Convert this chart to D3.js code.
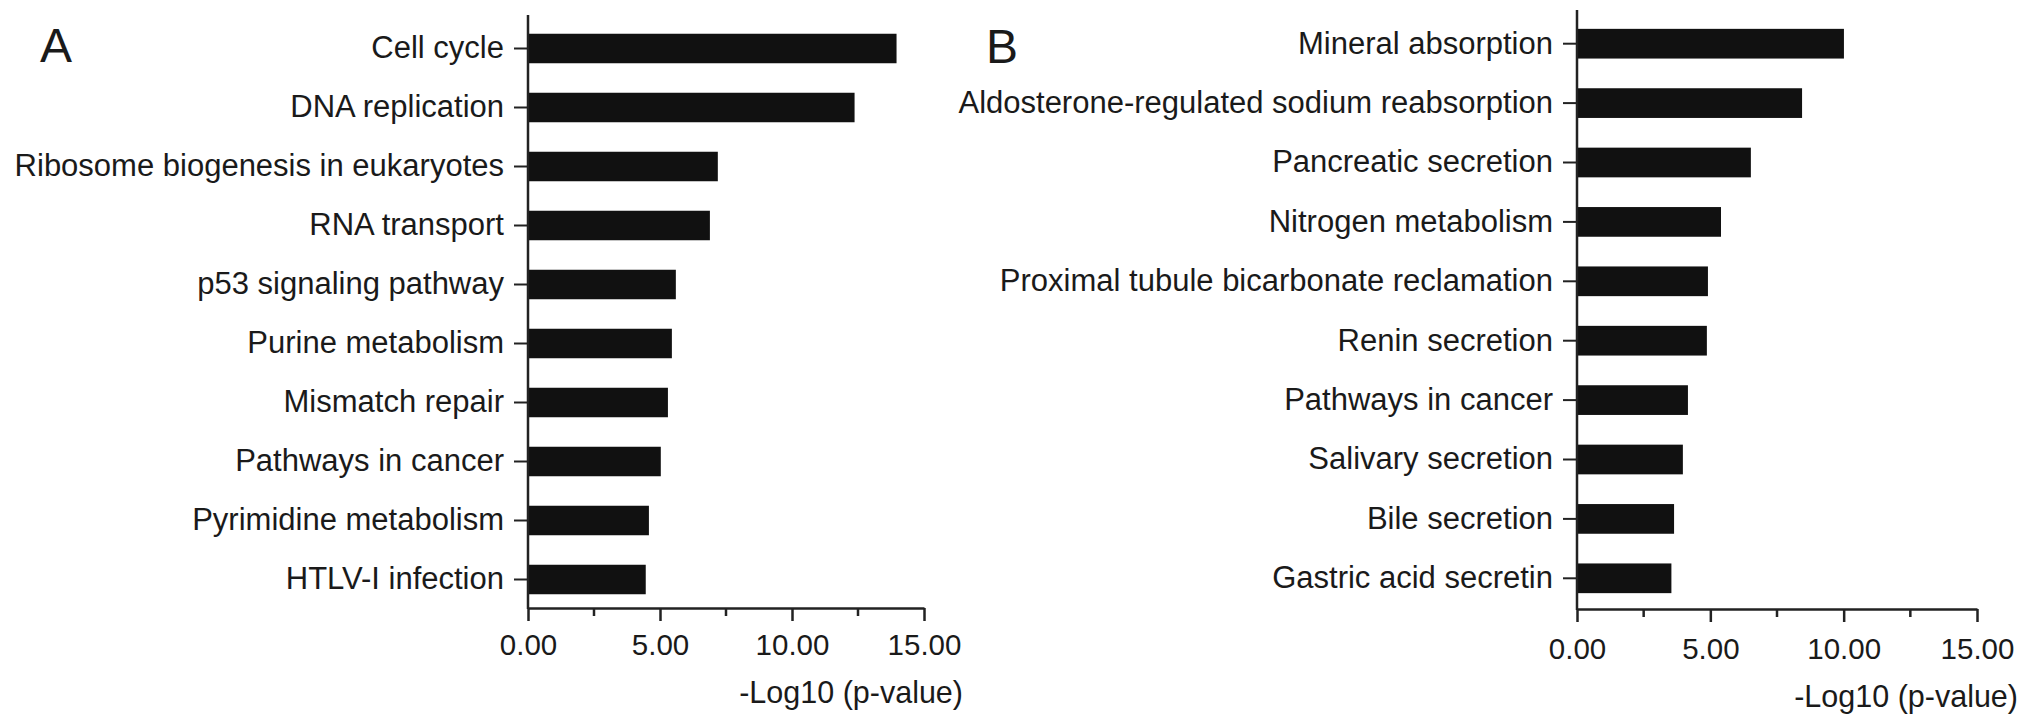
<!DOCTYPE html>
<html>
<head>
<meta charset="utf-8">
<script src="https://cdn.jsdelivr.net/npm/d3@7"></script>
<style>
  html, body { margin: 0; padding: 0; background: #fff; }
  svg { display: block; }
  text { font-family: "Liberation Sans", Arial, Helvetica, sans-serif; fill: #1a1a1a; }
</style>
</head>
<body>
<svg id="chart" width="2031" height="717"></svg>
<script>
// ---- Data ----
const categoriesA = ["Cell cycle", "DNA replication", "Ribosome biogenesis in eukaryotes", "RNA transport",
  "p53 signaling pathway", "Purine metabolism", "Mismatch repair", "Pathways in cancer",
  "Pyrimidine metabolism", "HTLV-I infection"];
const valuesA = [13.96, 12.37, 7.19, 6.89, 5.60, 5.45, 5.30, 5.03, 4.58, 4.46];

const categoriesB = ["Mineral absorption", "Aldosterone-regulated sodium reabsorption", "Pancreatic secretion",
  "Nitrogen metabolism", "Proximal tubule bicarbonate reclamation", "Renin secretion",
  "Pathways in cancer", "Salivary secretion", "Bile secretion", "Gastric acid secretin"];
const valuesB = [10.01, 8.44, 6.52, 5.40, 4.91, 4.87, 4.16, 3.97, 3.64, 3.54];

const xTicks = [0, 5, 10, 15];
const xMinorTicks = [2.5, 7.5, 12.5];
const xDomain = [0, 15];
const axisTitle = "-Log10 (p-value)";
const panelLetters = ["A", "B"];

// ---- Drawing ----
const svg = d3.select("#chart");

function panel(cfg) {
  const g = svg.append("g");
  const x = d3.scaleLinear().domain(xDomain).range(cfg.xRange);
  const y = d3.scaleBand().domain(cfg.categories).range(cfg.yRange).paddingInner(0.5).paddingOuter(0.25);

  // bars
  g.selectAll("rect.bar").data(cfg.values).enter().append("rect")
    .attr("class", "bar")
    .attr("x", x(0))
    .attr("y", (d, i) => y(cfg.categories[i]))
    .attr("width", d => x(d) - x(0))
    .attr("height", y.bandwidth())
    .attr("fill", "#111");

  // y axis
  const yAxis = g.append("g").attr("transform", `translate(${x(0)},0)`)
    .call(d3.axisLeft(y).tickSize(14).tickPadding(10).tickSizeOuter(0));
  yAxis.select(".domain").remove();
  yAxis.selectAll(".tick line").attr("stroke", "#222").attr("stroke-width", 2);
  yAxis.selectAll(".tick text").style("font-size", "31px").attr("fill", "#1a1a1a");
  g.append("line")
    .attr("x1", x(0)).attr("x2", x(0))
    .attr("y1", cfg.axisTop).attr("y2", cfg.axisY + 1)
    .attr("stroke", "#222").attr("stroke-width", 2.5);

  // x axis
  const xAxis = g.append("g").attr("transform", `translate(0,${cfg.axisY})`)
    .call(d3.axisBottom(x).tickValues(xTicks).tickFormat(d3.format(".2f"))
      .tickSize(13).tickSizeOuter(0).tickPadding(cfg.tickPad));
  xAxis.select(".domain").attr("stroke", "#222").attr("stroke-width", 2.5);
  xAxis.selectAll(".tick line").attr("stroke", "#222").attr("stroke-width", 2.5);
  xAxis.selectAll(".tick text").style("font-size", "29.5px").attr("fill", "#1a1a1a");

  // minor ticks
  g.append("g").selectAll("line").data(xMinorTicks).enter().append("line")
    .attr("x1", d => x(d)).attr("x2", d => x(d))
    .attr("y1", cfg.axisY).attr("y2", cfg.axisY + 8)
    .attr("stroke", "#222").attr("stroke-width", 2.5);

  // axis title
  g.append("text")
    .attr("x", cfg.titleX).attr("y", cfg.titleY)
    .attr("text-anchor", "end")
    .style("font-size", "30.5px")
    .text(axisTitle);

  // panel letter
  g.append("text")
    .attr("x", cfg.letterX).attr("y", cfg.letterY)
    .style("font-size", "48px")
    .text(cfg.letter);
}

panel({
  categories: categoriesA, values: valuesA,
  xRange: [528, 924], yRange: [19, 609], axisTop: 15, axisY: 608,
  tickPad: 13, titleX: 963, titleY: 703,
  letter: panelLetters[0], letterX: 40, letterY: 62
});

panel({
  categories: categoriesB, values: valuesB,
  xRange: [1577, 1977], yRange: [14, 608], axisTop: 10, axisY: 609,
  tickPad: 16, titleX: 2018, titleY: 707,
  letter: panelLetters[1], letterX: 986, letterY: 63
});
</script>
</body>
</html>
